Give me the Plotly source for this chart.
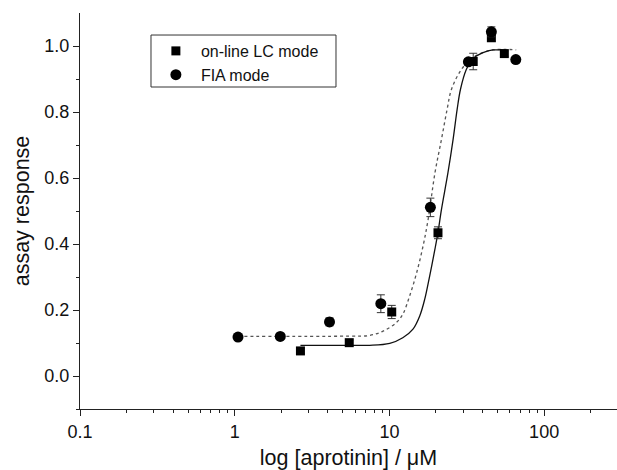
import plotly.graph_objects as go

# ---- data ----
lc_x = [2.66, 5.5, 10.35, 20.6, 34.8, 45.6, 55.3]
lc_y = [0.076, 0.101, 0.194, 0.434, 0.953, 1.025, 0.977]
lc_err = [0.008, 0.008, 0.020, 0.018, 0.025, 0.010, 0.008]

fia_x = [1.05, 1.97, 4.1, 8.8, 18.4, 32.4, 45.6, 65.6]
fia_y = [0.118, 0.120, 0.164, 0.219, 0.511, 0.952, 1.043, 0.959]
fia_err = [0.006, 0.008, 0.012, 0.027, 0.028, 0.010, 0.015, 0.008]

# fitted curves
lc_fit_x = [2.66, 5.0, 7.46, 10.05, 12.2, 14.2, 15.7, 16.9, 18.2, 19.7, 20.6, 21.7,
            23.9, 25.8, 27.4, 28.8, 31.4, 34.7, 40.3, 46.7, 53.0, 56.0]
lc_fit_y = [0.093, 0.093, 0.093, 0.099, 0.116, 0.142, 0.182, 0.232, 0.303, 0.385, 0.435, 0.505,
            0.616, 0.717, 0.808, 0.869, 0.929, 0.962, 0.980, 0.988, 0.988, 0.987]

fia_fit_x = [1.05, 3.0, 5.5, 7.46, 9.1, 11.1, 12.2, 13.5, 15.0, 16.5, 17.8, 19.7, 21.7,
             23.6, 25.2, 29.2, 34.0, 40.0, 47.0, 55.0, 66.0]
fia_fit_y = [0.120, 0.120, 0.121, 0.123, 0.136, 0.162, 0.187, 0.242, 0.313, 0.394, 0.475, 0.616, 0.717,
             0.808, 0.869, 0.929, 0.962, 0.980, 0.988, 0.990, 0.988]

x_tickvals = [0.1, 1, 10, 100]
x_ticktext = ["0.1", "1", "10", "100"]
x_minor = [0.2, 0.3, 0.4, 0.5, 0.6, 0.7, 0.8, 0.9, 2, 3, 4, 5, 6, 7, 8, 9,
           20, 30, 40, 50, 60, 70, 80, 90, 200]
y_tickvals = [0.0, 0.2, 0.4, 0.6, 0.8, 1.0]
y_ticktext = ["0.0", "0.2", "0.4", "0.6", "0.8", "1.0"]
y_minor = [-0.1, 0.1, 0.3, 0.5, 0.7, 0.9]

FONT = "Arial, Liberation Sans, Helvetica, sans-serif"

fig = go.Figure()

fig.add_trace(go.Scatter(x=fia_fit_x, y=fia_fit_y, mode="lines", line_shape="spline",
                         line=dict(color="#555555", width=1.3, dash="dot"),
                         showlegend=False, hoverinfo="skip"))
fig.add_trace(go.Scatter(x=lc_fit_x, y=lc_fit_y, mode="lines", line_shape="spline",
                         line=dict(color="#111111", width=1.3),
                         showlegend=False, hoverinfo="skip"))

fig.add_trace(go.Scatter(x=lc_x, y=lc_y, mode="markers", name="on-line LC mode",
                         marker=dict(symbol="square", size=9, color="black"),
                         error_y=dict(type="data", array=lc_err, color="#333333",
                                      thickness=1, width=4)))
fig.add_trace(go.Scatter(x=fia_x, y=fia_y, mode="markers", name="FIA mode",
                         marker=dict(symbol="circle", size=11, color="black"),
                         error_y=dict(type="data", array=fia_err, color="#333333",
                                      thickness=1, width=4)))

# legend frame (drawn as a shape so its width matches the reference)
fig.add_shape(type="rect", xref="paper", yref="paper",
              x0=0.1322, x1=0.4767, y0=0.8131, y1=0.9444,
              line=dict(color="#333333", width=1), fillcolor="rgba(0,0,0,0)", layer="above")

fig.update_layout(
    width=617, height=470,
    margin=dict(l=80, r=0, t=13, b=61),
    paper_bgcolor="white", plot_bgcolor="white",
    font=dict(family=FONT, color="#111111", size=18),
    legend=dict(x=0.132, y=0.947, xanchor="left", yanchor="top",
                borderwidth=0, bgcolor="rgba(0,0,0,0)",
                font=dict(size=16), tracegroupgap=0, itemwidth=40),
)

fig.update_xaxes(type="log", range=[-1, 2.471],
                 tickmode="array", tickvals=x_tickvals, ticktext=x_ticktext,
                 ticks="outside", ticklen=6, tickwidth=1, tickcolor="#222222",
                 minor=dict(tickmode="array", tickvals=x_minor, ticks="outside",
                            ticklen=3, tickwidth=1, tickcolor="#222222", showgrid=False),
                 showline=True, linecolor="#222222", linewidth=1.2,
                 showgrid=False, zeroline=False,
                 tickfont=dict(size=18),
                 title=dict(text="log [aprotinin] / μM", font=dict(size=21.5), standoff=10))

fig.update_yaxes(range=[-0.1, 1.1],
                 tickmode="array", tickvals=y_tickvals, ticktext=y_ticktext,
                 ticks="outside", ticklen=6, tickwidth=1, tickcolor="#222222",
                 minor=dict(tickmode="array", tickvals=y_minor, ticks="outside",
                            ticklen=3, tickwidth=1, tickcolor="#222222", showgrid=False),
                 showline=True, linecolor="#222222", linewidth=1.2,
                 showgrid=False, zeroline=False,
                 tickfont=dict(size=18),
                 title=dict(text="assay response", font=dict(size=21.5), standoff=8))

fig.write_html("out.html")
